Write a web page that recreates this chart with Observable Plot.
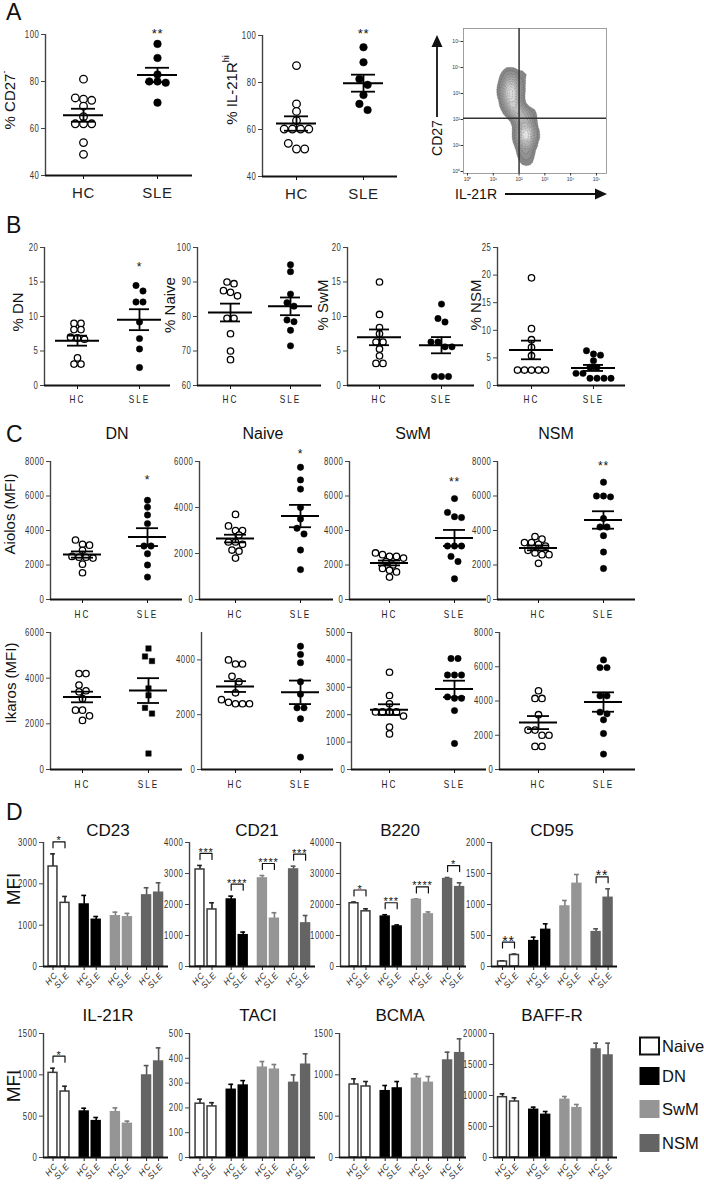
<!DOCTYPE html>
<html><head><meta charset="utf-8">
<script src="https://cdn.jsdelivr.net/npm/d3@7"></script>
<script src="https://cdn.jsdelivr.net/npm/@observablehq/plot@0.6"></script>
<style>
body{margin:0;background:#fff;}
#fig{position:relative;width:704px;height:1185px;overflow:hidden;background:#fff;}
#fig svg{position:absolute;}
</style></head><body><div id="fig"></div>
<script>
// ---------------- DATA ----------------
const groups = ["HC", "SLE"];
const pops = ["Naive", "DN", "SwM", "NSM"];

// Panel A
const cd27negHC = [81, 72.5, 72, 73, 69.5, 65, 62, 62, 62, 54, 49];
const cd27negSLE = [96, 90, 83, 80, 79.5, 80, 71];
const il21rhiHC = [87.2, 70.9, 67.7, 63.8, 60.2, 60.2, 60.2, 60.2, 54.1, 51.7, 51.7];
const il21rhiSLE = [95, 88.6, 81.5, 79, 74.7, 70.9, 68.3];
// flow cytometry density anchors (log10 IL-21R, log10 CD27, relative weight)
const flowLogX = [1.7, 1.65, 1.75, 1.6, 1.85, 1.5, 1.9, 1.55, 2.0, 2.25, 2.2, 2.3, 2.25, 2.35, 2.45, 2.1, 2.3, 2.1, 2.3, 2.55];
const flowLogY = [3.0, 3.35, 2.65, 3.7, 2.35, 3.1, 3.2, 2.6, 2.2, 1.5, 1.85, 1.15, 0.75, 2.2, 1.5, 1.3, 0.4, 3.6, 3.9, 4.1];
const flowWeight = [5, 4, 4, 2, 3, 1.5, 1.5, 1.5, 2, 5, 4, 4, 2.5, 2, 1.5, 1.5, 1, 0.8, 0.6, 0.4];

// Panel B (% of B cells)
const dnPctHC = [9.0, 9.0, 8.1, 8.1, 7.0, 6.7, 6.9, 4.0, 3.1, 3.1];
const dnPctSLE = [14.5, 13.7, 12.1, 12.1, 9.2, 6.8, 5.3, 2.6];
const naivePctHC = [89.5, 90, 87.5, 87, 86, 79.5, 79.5, 75, 70, 67.5];
const naivePctSLE = [95, 93, 86.5, 84, 83, 78.5, 79, 76, 71.5];
const swmPctHC = [15, 10.3, 8.4, 7.5, 6.3, 6.3, 5.3, 4.3, 3.2, 3.2];
const swmPctSLE = [11.8, 9.7, 9.2, 6.3, 6.3, 5.6, 5.6, 1.3, 1.3, 1.3];
const nsmPctHC = [19.5, 10.3, 8.3, 6.9, 5.4, 2.8, 2.8, 2.8, 2.8, 2.8];
const nsmPctSLE = [6.3, 5.7, 5.5, 4.5, 3.3, 3.3, 2.2, 2.2, 1.3, 1.3, 1.3, 1.3];

// Panel C (MFI)
const aiolosDnHC = [3450, 3200, 3150, 2850, 2500, 2450, 2450, 2400, 2050, 1550];
const aiolosDnSLE = [5750, 5350, 4900, 4400, 3100, 3100, 2650, 2000, 1300];
const aiolosNaiveHC = [3700, 3200, 3000, 3000, 2800, 2500, 2500, 2400, 2150, 2100, 1800];
const aiolosNaiveSLE = [5750, 5200, 4800, 4000, 3500, 3100, 2850, 2150, 1300];
const aiolosSwmHC = [2700, 2600, 2500, 2500, 2400, 2200, 2000, 1800, 1700, 1600, 1300];
const aiolosSwmSLE = [5850, 5050, 4800, 4750, 3100, 3100, 3100, 2500, 2200, 1200];
const aiolosNsmHC = [3650, 3500, 3300, 3300, 3200, 3100, 2850, 2700, 2600, 2600, 2100];
const aiolosNsmSLE = [6800, 6000, 6000, 5950, 4700, 4200, 4200, 3700, 2750, 1800];
const ikarosDnHC = [4200, 4200, 3700, 3450, 3400, 3100, 2600, 2600, 2350, 2150];
const ikarosDnSLE = [5300, 4950, 4750, 3550, 3250, 2700, 2450, 700];
const ikarosNaiveHC = [4000, 3850, 3850, 3400, 3200, 2800, 2550, 2450, 2400, 2400, 2400];
const ikarosNaiveSLE = [4500, 4200, 3900, 3200, 2750, 2250, 2250, 1850, 450];
const ikarosSwmHC = [3550, 2700, 2400, 2100, 2100, 2100, 2100, 1950, 1550, 1300];
const ikarosSwmSLE = [4050, 4050, 3450, 3450, 3450, 2650, 2600, 2600, 2150, 950];
const ikarosNsmHC = [4600, 4150, 4150, 3200, 2300, 2300, 2000, 2000, 1350, 1350];
const ikarosNsmSLE = [6400, 5950, 5950, 4300, 4300, 3350, 3250, 2900, 2100, 900];

// Panel D: bar order Naive HC, Naive SLE, DN HC, DN SLE, SwM HC, SwM SLE, NSM HC, NSM SLE
const cd23Mean = [2420, 1540, 1500, 1130, 1215, 1190, 1720, 1785];
const cd23Sem = [305, 155, 220, 80, 100, 95, 185, 240];
const cd21Mean = [3130, 1840, 2160, 1010, 2840, 1540, 3130, 1390];
const cd21Sem = [130, 215, 110, 100, 95, 195, 105, 255];
const b220Mean = [20400, 17800, 16100, 12900, 21500, 16800, 28200, 25600];
const b220Sem = [400, 800, 600, 500, 300, 800, 500, 1400];
const cd95Mean = [80, 185, 409, 591, 968, 1333, 554, 1108];
const cd95Sem = [12, 15, 64, 97, 97, 151, 54, 145];
const il21rMean = [1024, 798, 556, 440, 548, 407, 992, 1161];
const il21rSem = [56, 64, 40, 44, 52, 33, 120, 165];
const taciMean = [217, 206, 273, 290, 362, 354, 301, 374];
const taciSem = [18, 15, 22, 20, 25, 21, 32, 44];
const bcmaMean = [883, 859, 802, 835, 952, 903, 1173, 1262];
const bcmaSem = [69, 60, 69, 84, 60, 77, 101, 174];
const baffrMean = [9730, 9030, 7690, 6880, 9300, 7960, 17420, 16450];
const baffrSem = [540, 590, 430, 540, 540, 590, 1020, 1990];

// significance (group index, label)
const cd23Sig = [[0, "*"]];
const cd21Sig = [[0, "***"], [1, "****"], [2, "****"], [3, "***"]];
const b220Sig = [[0, "*"], [1, "***"], [2, "****"], [3, "*"]];
const cd95Sig = [[0, "**"], [3, "**"]];
const il21rSig = [[0, "*"]];

// ---------------- STYLE ----------------
const ARIAL = "'Liberation Sans', Arial, Helvetica, sans-serif";
const popFill = {Naive: "white", DN: "black", SwM: "#959595", NSM: "#646464"};
const popStroke = {Naive: "#3a3a3a", DN: "black", SwM: "#959595", NSM: "#646464"};
const popErr = {Naive: "#222", DN: "black", SwM: "#7d7d7d", NSM: "#555"};
const fig = document.getElementById("fig");

function place(svg, left, top) {
  svg.style.position = "absolute";
  svg.style.left = left + "px";
  svg.style.top = top + "px";
  fig.appendChild(svg);
}
function styleStr(size, ls) {
  return `font-family:${ARIAL};font-size:${size}px;letter-spacing:${ls}px;background:transparent;overflow:visible;max-width:none;color:#333;`;
}
// horizontally condense axis tick labels (Prism-like narrow digits)
function condense(svg, label, sx, ls) {
  d3.select(svg).selectAll(`g[aria-label="${label}"] text`).each(function () {
    const ax = +this.getAttribute("x") || 0;
    const tr = this.getAttribute("transform") || "";
    this.setAttribute("transform", `${tr} translate(${ax},0) scale(${sx},1) translate(${-ax},0)`);
    if (ls != null) this.setAttribute("letter-spacing", ls);
  });
}

// simple row-based beeswarm
function placeDots(values, py, r) {
  const idx = values.map((v, i) => i).sort((a, b) => values[b] - values[a]);
  const step = 2 * r + 0.6;
  const offs = new Array(values.length).fill(0);
  const rows = [];
  let cur = null;
  for (const i of idx) {
    const ypx = values[i] * py;
    if (cur && Math.abs(cur.y0 - ypx) < 1.8 * r) cur.items.push(i);
    else { cur = {y0: ypx, items: [i]}; rows.push(cur); }
  }
  let prev = null;
  for (const row of rows) {
    const n = row.items.length;
    const base = row.items.map((_, k) => (k - (n - 1) / 2) * step);
    let shift = 0;
    if (prev) {
      const overlap = s => row.items.some((i, k) => prev.items.some(j => {
        const dx = base[k] + s - offs[j], dy = (values[i] - values[j]) * py;
        return dx * dx + dy * dy < 0.8 * (2 * r) * (2 * r);
      }));
      if (overlap(0)) shift = !overlap(step / 2) ? step / 2 : (!overlap(-step / 2) ? -step / 2 : 0);
    }
    row.items.forEach((i, k) => offs[i] = base[k] + shift);
    prev = row;
  }
  return offs;
}

function dotChart(c) {
  const {axisX, axisEnd, yTop, yBot, hcX, sleX, domain, ticks, hc, sle} = c;
  const r = c.r || 3.2;
  const svgLeft = axisX - 42, svgTop = yTop - 26, svgRight = axisEnd + 8, svgBottom = yBot + 36;
  const u = sleX - hcX;
  const xl = (axisX - hcX) / u, xr = (axisEnd - hcX) / u;
  const py = (yBot - yTop) / (domain[1] - domain[0]);
  const mk = (vals, g) => { const o = placeDots(vals, py, r); return vals.map((v, i) => ({g, v, x: g + o[i] / u})); };
  const hcPts = mk(hc, 0), slePts = mk(sle, 1);
  const stats = [hc, sle].map((vals, g) => {
    const m = d3.mean(vals), s = d3.deviation(vals) / Math.sqrt(vals.length);
    return {g, m, lo: m - s, hi: m + s};
  });
  const mw = c.meanHalf / u, sw = c.semHalf / u;
  const marks = [
    Plot.ruleX([xl], {y1: domain[0], y2: domain[1], stroke: "#444", strokeWidth: 1.4}),
    Plot.axisY({ticks, tickSize: 4, tickPadding: 2, label: null, stroke: "#444", fill: "#333", tickFormat: d => String(d)}),
    Plot.axisX({ticks: [0, 1], tickFormat: d => groups[d], tickSize: 4, tickPadding: c.xPad, label: null,
      fontSize: c.xFont, stroke: "#111", fill: "#222"}),
    Plot.ruleY([domain[0]], {x1: xl, x2: xr, stroke: "#111", strokeWidth: 2}),
    Plot.dot(hcPts, {x: "x", y: "v", r, fill: "white", stroke: "black", strokeWidth: 1.3}),
    Plot.dot(slePts, {x: "x", y: "v", r: c.square ? r * 0.95 : r, fill: "black", stroke: "black", strokeWidth: 0.5, symbol: c.square ? "square" : "circle"}),
    Plot.ruleY(stats, {y: "m", x1: d => d.g - mw, x2: d => d.g + mw, stroke: "black", strokeWidth: 2}),
    Plot.ruleY(stats, {y: "hi", x1: d => d.g - sw, x2: d => d.g + sw, stroke: "black", strokeWidth: 1.8}),
    Plot.ruleY(stats, {y: "lo", x1: d => d.g - sw, x2: d => d.g + sw, stroke: "black", strokeWidth: 1.8}),
    Plot.ruleX(stats, {x: "g", y1: "lo", y2: "hi", stroke: "black", strokeWidth: 1.8})
  ];
  if (c.star) marks.push(Plot.text([{x: 1, y: c.star[1], t: c.star[0]}], {x: "x", y: "y", text: "t", fontSize: c.starSize || 12, dy: 3, fill: "#111"}));
  const svg = Plot.plot({
    width: svgRight - svgLeft, height: svgBottom - svgTop,
    marginLeft: axisX - svgLeft, marginRight: svgRight - axisEnd,
    marginTop: yTop - svgTop, marginBottom: svgBottom - yBot,
    x: {type: "linear", domain: [xl, xr], axis: null},
    y: {type: "linear", domain, axis: null},
    style: styleStr(10.5, 0.8),
    marks
  });
  condense(svg, "y-axis tick label", 0.74, null);
  if (c.xCondense) condense(svg, "x-axis tick label", 0.78, "2.6px");
  place(svg, svgLeft, svgTop);
}

function barChart(c) {
  const {axisX, axisEnd, yTop, yBot, first, domain, ticks, means, sems, sig} = c;
  const U = 12, G = 2.6;
  const svgLeft = axisX - 44, svgTop = yTop - 28, svgRight = axisEnd + 6, svgBottom = yBot + 30;
  const xl = (axisX - first) / U, xr = (axisEnd - first) / U;
  const upp = (domain[1] - domain[0]) / (yBot - yTop);
  const rows = means.map((m, i) => ({pop: pops[i >> 1], grp: groups[i & 1], pos: (i >> 1) * G + (i & 1), m, e: m + sems[i]}));
  const marks = [
    Plot.ruleX(rows, {x: "pos", y1: "m", y2: "e", stroke: d => popErr[d.pop], strokeWidth: 1.6}),
    Plot.ruleY(rows, {y: "e", x1: d => d.pos - 0.2, x2: d => d.pos + 0.2, stroke: d => popErr[d.pop], strokeWidth: 1.6}),
    Plot.rect(rows, {x1: d => d.pos - 0.37, x2: d => d.pos + 0.37, y1: domain[0], y2: "m", fill: d => popFill[d.pop], stroke: d => popStroke[d.pop], strokeWidth: 1.5}),
    Plot.ruleX([xl], {y1: domain[0], y2: domain[1], stroke: "#444", strokeWidth: 1.4}),
    Plot.axisY({ticks, tickSize: 4, tickPadding: 2, label: null, stroke: "#444", fill: "#333", tickFormat: d => String(d)}),
    Plot.ruleX(rows, {x: "pos", y1: domain[0], y2: domain[0] - 4 * upp, stroke: "#222", strokeWidth: 1}),
    Plot.ruleY([domain[0]], {x1: xl, x2: xr, stroke: "#111", strokeWidth: 2}),
    Plot.text(rows, {x: d => d.pos + 0.25, y: domain[0], text: "grp", rotate: -48, textAnchor: "end", dy: 7, dx: 0,
      fontStyle: "italic", fontSize: 8.5, fill: "#222"})
  ];
  for (const [g, label] of (sig || [])) {
    const maxE = Math.max(rows[g * 2].e, rows[g * 2 + 1].e);
    const top = maxE + 12 * upp, leg = maxE + 6 * upp;
    const x0 = g * G, x1 = g * G + 1;
    marks.push(Plot.line([{x: x0, y: leg}, {x: x0, y: top}, {x: x1, y: top}, {x: x1, y: leg}], {x: "x", y: "y", stroke: "#111", strokeWidth: 1.2}));
    marks.push(Plot.text([{x: (x0 + x1) / 2, y: top, t: label}], {x: "x", y: "y", text: "t", dy: -1, fontSize: label === "**" && c.bigStar ? 14 : 11, fill: "#111"}));
  }
  const svg = Plot.plot({
    width: svgRight - svgLeft, height: svgBottom - svgTop,
    marginLeft: axisX - svgLeft, marginRight: svgRight - axisEnd,
    marginTop: yTop - svgTop, marginBottom: svgBottom - yBot,
    x: {type: "linear", domain: [xl, xr], axis: null},
    y: {type: "linear", domain, axis: null},
    color: {type: "identity"},
    style: styleStr(10.5, 0.8),
    marks
  });
  condense(svg, "y-axis tick label", 0.74, null);
  place(svg, svgLeft, svgTop);
}

// ---------------- PANEL A ----------------
const aStyle = {yTop: 34, yBot: 175, domain: [40, 100], ticks: [40, 60, 80, 100], r: 3.8, meanHalf: 20, semHalf: 12,
  xPad: 8, xFont: 15, starSize: 13};
dotChart({...aStyle, axisX: 45, axisEnd: 192, hcX: 83, sleX: 157, hc: cd27negHC, sle: cd27negSLE, star: ["**", 101.5]});
dotChart({...aStyle, yTop: 35, yBot: 176, axisX: 262, axisEnd: 397, hcX: 296, sleX: 363, hc: il21rhiHC, sle: il21rhiSLE, star: ["**", 101.8]});

// flow cytometry plot
{
  const sup = {0: "⁰", 1: "¹", 2: "²", 3: "³", 4: "⁴", 5: "⁵"};
  const decades = [1, 10, 100, 1000, 10000, 100000];
  const fmt = d => "10" + sup[Math.round(Math.log10(d))];
  const events = flowLogX.map((lx, i) => ({x: 10 ** lx, y: 10 ** flowLogY[i], w: flowWeight[i]}));
  const svg = Plot.plot({
    width: 175, height: 165, marginLeft: 23, marginTop: 8, marginRight: 9, marginBottom: 12,
    x: {type: "log", domain: [10 ** -0.155, 10 ** 5.39], axis: null},
    y: {type: "log", domain: [10 ** -0.077, 10 ** 5.5], axis: null},
    color: {type: "linear", range: ["#7a7a7a", "#e2e2e2"]},
    style: styleStr(5, 0),
    marks: [
      Plot.density(events, {x: "x", y: "y", weight: "w", bandwidth: 4.5, thresholds: 10, fill: "density", stroke: "#333", strokeWidth: 0.35, strokeDasharray: "0.8,0.8"}),
      Plot.frame({stroke: "#888", strokeWidth: 0.8}),
      Plot.ruleX([100], {stroke: "#333", strokeWidth: 1.5}),
      Plot.ruleY([10 ** 2.05], {stroke: "#333", strokeWidth: 1.5}),
      Plot.axisX({ticks: decades, tickFormat: fmt, tickSize: 2.5, tickPadding: 1, label: null, fontSize: 5, stroke: "#333"}),
      Plot.axisY({ticks: decades, tickFormat: fmt, tickSize: 2.5, tickPadding: 1, label: null, fontSize: 5, stroke: "#333"})
    ]
  });
  place(svg, 440, 20);
}

// ---------------- PANEL B ----------------
const bStyle = {yTop: 247, yBot: 385, r: 3.2, meanHalf: 22, semHalf: 10, xPad: 6, xFont: 10.5, xCondense: true};
dotChart({...bStyle, axisX: 44, axisEnd: 170, hcX: 77, sleX: 139, domain: [0, 20], ticks: [0, 5, 10, 15, 20], hc: dnPctHC, sle: dnPctSLE, star: ["*", 17.6]});
dotChart({...bStyle, axisX: 197, axisEnd: 321, hcX: 230, sleX: 290, domain: [60, 100], ticks: [60, 70, 80, 90, 100], hc: naivePctHC, sle: naivePctSLE});
dotChart({...bStyle, axisX: 347, axisEnd: 474, hcX: 379, sleX: 441, domain: [0, 20], ticks: [0, 5, 10, 15, 20], hc: swmPctHC, sle: swmPctSLE});
dotChart({...bStyle, axisX: 497, axisEnd: 625, hcX: 531, sleX: 593, domain: [0, 25], ticks: [0, 5, 10, 15, 20, 25], hc: nsmPctHC, sle: nsmPctSLE});

// ---------------- PANEL C ----------------
const cTop = {yTop: 461, yBot: 599, r: 3.2, meanHalf: 19, semHalf: 11, xPad: 7, xFont: 10.5, xCondense: true};
dotChart({...cTop, axisX: 50, axisEnd: 182, hcX: 82, sleX: 147, domain: [0, 8000], ticks: [0, 2000, 4000, 6000, 8000], hc: aiolosDnHC, sle: aiolosDnSLE, star: ["*", 7100]});
dotChart({...cTop, axisX: 199, axisEnd: 333, hcX: 235, sleX: 300, domain: [0, 6000], ticks: [0, 2000, 4000, 6000], hc: aiolosNaiveHC, sle: aiolosNaiveSLE, star: ["*", 6450]});
dotChart({...cTop, axisX: 349, axisEnd: 486, hcX: 389, sleX: 454, domain: [0, 8000], ticks: [0, 2000, 4000, 6000, 8000], hc: aiolosSwmHC, sle: aiolosSwmSLE, star: ["**", 7000]});
dotChart({...cTop, axisX: 497, axisEnd: 635, hcX: 538, sleX: 603, domain: [0, 8000], ticks: [0, 2000, 4000, 6000, 8000], hc: aiolosNsmHC, sle: aiolosNsmSLE, star: ["**", 7900]});
const cBot = {...cTop, yTop: 632, yBot: 769};
dotChart({...cBot, axisX: 50, axisEnd: 182, hcX: 82, sleX: 148, domain: [0, 6000], ticks: [0, 2000, 4000, 6000], hc: ikarosDnHC, sle: ikarosDnSLE, square: true});
dotChart({...cBot, axisX: 201, axisEnd: 333, hcX: 235, sleX: 300, domain: [0, 5000], ticks: [0, 2000, 4000], hc: ikarosNaiveHC, sle: ikarosNaiveSLE});
dotChart({...cBot, axisX: 351, axisEnd: 486, hcX: 389, sleX: 454, domain: [0, 5000], ticks: [0, 1000, 2000, 3000, 4000, 5000], hc: ikarosSwmHC, sle: ikarosSwmSLE});
dotChart({...cBot, axisX: 499, axisEnd: 635, hcX: 538, sleX: 603, domain: [0, 8000], ticks: [0, 2000, 4000, 6000, 8000], hc: ikarosNsmHC, sle: ikarosNsmSLE});

// ---------------- PANEL D ----------------
const dTop = {yTop: 842, yBot: 966};
const dBot = {yTop: 1033, yBot: 1157};
const col = [{axisX: 43, axisEnd: 168, first: 52.5}, {axisX: 189, axisEnd: 315, first: 199.5},
             {axisX: 340, axisEnd: 466, first: 353.5}, {axisX: 491, axisEnd: 617, first: 502}];
barChart({...dTop, ...col[0], domain: [0, 3000], ticks: [0, 1000, 2000, 3000], means: cd23Mean, sems: cd23Sem, sig: cd23Sig});
barChart({...dTop, ...col[1], domain: [0, 4000], ticks: [0, 1000, 2000, 3000, 4000], means: cd21Mean, sems: cd21Sem, sig: cd21Sig});
barChart({...dTop, ...col[2], domain: [0, 40000], ticks: [0, 10000, 20000, 30000, 40000], means: b220Mean, sems: b220Sem, sig: b220Sig});
barChart({...dTop, ...col[3], domain: [0, 2000], ticks: [0, 500, 1000, 1500, 2000], means: cd95Mean, sems: cd95Sem, sig: cd95Sig, bigStar: true});
barChart({...dBot, ...col[0], domain: [0, 1500], ticks: [0, 500, 1000, 1500], means: il21rMean, sems: il21rSem, sig: il21rSig});
barChart({...dBot, ...col[1], domain: [0, 500], ticks: [0, 100, 200, 300, 400, 500], means: taciMean, sems: taciSem});
barChart({...dBot, ...col[2], axisX: 339, domain: [0, 1500], ticks: [0, 500, 1000, 1500], means: bcmaMean, sems: bcmaSem});
barChart({...dBot, ...col[3], axisX: 493, domain: [0, 20000], ticks: [0, 5000, 10000, 15000, 20000], means: baffrMean, sems: baffrSem});

// ---------------- TEXT OVERLAY ----------------
const ov = d3.select(fig).append("svg").attr("width", 704).attr("height", 1185)
  .style("left", "0px").style("top", "0px").style("pointer-events", "none")
  .attr("font-family", ARIAL).attr("fill", "#111");
function T(x, y, s, size, opts = {}) {
  const t = ov.append("text").attr("x", x).attr("y", y).attr("font-size", size)
    .attr("text-anchor", opts.anchor || "middle").attr("dominant-baseline", opts.base || "central").text(s);
  if (opts.rot) t.attr("transform", `rotate(${opts.rot},${x},${y})`);
  return t;
}
// panel letters
[["A", 20], ["B", 233], ["C", 442], ["D", 820]].forEach(([l, y]) => T(6, y, l, 23, {anchor: "start", base: "auto"}));
// Panel A labels
T(9, 100, "% CD27", 15, {rot: -90}).append("tspan").attr("baseline-shift", "super").attr("font-size", 9).text("-");
T(231, 90, "% IL-21R", 15, {rot: -90}).append("tspan").attr("baseline-shift", "super").attr("font-size", 9).text("hi");
T(437, 138, "CD27", 14, {rot: -90});
ov.append("line").attr("x1", 437).attr("y1", 117).attr("x2", 437).attr("y2", 46).attr("stroke", "#111").attr("stroke-width", 1.8);
ov.append("polygon").attr("points", "431.5,47 442.5,47 437,35").attr("fill", "#111");
T(455, 194, "IL-21R", 14, {anchor: "start"});
ov.append("line").attr("x1", 505).attr("y1", 194).attr("x2", 597).attr("y2", 194).attr("stroke", "#111").attr("stroke-width", 1.8);
ov.append("polygon").attr("points", "595,188.5 595,199.5 607,194").attr("fill", "#111");
// Panel B labels
[["% DN", 17, 312], ["% Naive", 169, 305], ["% SwM", 322, 305], ["% NSM", 475, 305]].forEach(([s, x, y]) => T(x, y, s, 15, {rot: -90}));
// Panel C titles
[["DN", 117], ["Naive", 263], ["SwM", 413], ["NSM", 556]].forEach(([s, x]) => T(x, 433, s, 16));
T(9, 514, "Aiolos (MFI)", 15, {rot: -90});
T(10, 683, "Ikaros (MFI)", 15, {rot: -90});
// Panel D titles
[["CD23", 108], ["CD21", 257], ["B220", 400], ["CD95", 552]].forEach(([s, x]) => T(x, 830, s, 17));
[["IL-21R", 108], ["TACI", 258], ["BCMA", 400], ["BAFF-R", 552]].forEach(([s, x]) => T(x, 1015, s, 17));
T(13, 889, "MFI", 19, {rot: -90});
T(13, 1086, "MFI", 19, {rot: -90});
// legend
const legendY = [1046, 1076, 1109, 1143];
pops.forEach((p, i) => {
  ov.append("rect").attr("x", 640).attr("y", legendY[i] - 8.5).attr("width", 19).attr("height", 17)
    .attr("fill", popFill[p]).attr("stroke", p === "Naive" ? "#111" : popFill[p]).attr("stroke-width", p === "Naive" ? 2 : 1);
  T(662, legendY[i], p, 16.5, {anchor: "start"});
});
</script>
</body></html>
